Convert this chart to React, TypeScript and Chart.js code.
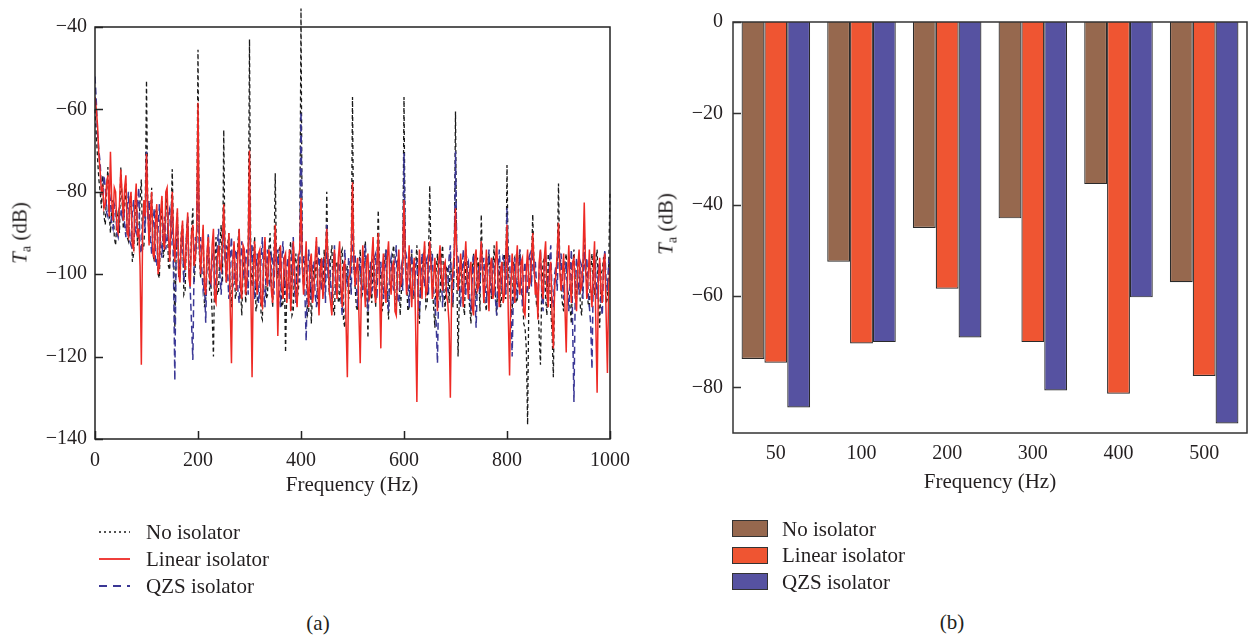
import React, { useEffect, useRef } from 'react';
import { Chart, registerables } from 'chart.js';

Chart.register(...registerables);

const FONT = "'Liberation Serif', 'Times New Roman', serif";
const TEXT = '#231f20';

// ---------- Panel (a): spectrum (frequency bins, Hz) ----------
const FREQ_HZ = [
  0, 2.5, 5, 7.5, 10, 12.5, 15, 17.5, 20, 22.5, 25, 27.5, 30, 32.5, 35, 37.5, 40, 42.5, 45, 47.5,
  50, 52.5, 55, 57.5, 60, 62.5, 65, 67.5, 70, 72.5, 75, 77.5, 80, 82.5, 85, 87.5, 90, 92.5, 95, 97.5,
  100, 102.5, 105, 107.5, 110, 112.5, 115, 117.5, 120, 122.5, 125, 127.5, 130, 132.5, 135, 137.5, 140, 142.5, 145, 147.5,
  150, 152.5, 155, 157.5, 160, 162.5, 165, 167.5, 170, 172.5, 175, 177.5, 180, 182.5, 185, 187.5, 190, 192.5, 195, 197.5,
  200, 202.5, 205, 207.5, 210, 212.5, 215, 217.5, 220, 222.5, 225, 227.5, 230, 232.5, 235, 237.5, 240, 242.5, 245, 247.5,
  250, 252.5, 255, 257.5, 260, 262.5, 265, 267.5, 270, 272.5, 275, 277.5, 280, 282.5, 285, 287.5, 290, 292.5, 295, 297.5,
  300, 302.5, 305, 307.5, 310, 312.5, 315, 317.5, 320, 322.5, 325, 327.5, 330, 332.5, 335, 337.5, 340, 342.5, 345, 347.5,
  350, 352.5, 355, 357.5, 360, 362.5, 365, 367.5, 370, 372.5, 375, 377.5, 380, 382.5, 385, 387.5, 390, 392.5, 395, 397.5,
  400, 402.5, 405, 407.5, 410, 412.5, 415, 417.5, 420, 422.5, 425, 427.5, 430, 432.5, 435, 437.5, 440, 442.5, 445, 447.5,
  450, 452.5, 455, 457.5, 460, 462.5, 465, 467.5, 470, 472.5, 475, 477.5, 480, 482.5, 485, 487.5, 490, 492.5, 495, 497.5,
  500, 502.5, 505, 507.5, 510, 512.5, 515, 517.5, 520, 522.5, 525, 527.5, 530, 532.5, 535, 537.5, 540, 542.5, 545, 547.5,
  550, 552.5, 555, 557.5, 560, 562.5, 565, 567.5, 570, 572.5, 575, 577.5, 580, 582.5, 585, 587.5, 590, 592.5, 595, 597.5,
  600, 602.5, 605, 607.5, 610, 612.5, 615, 617.5, 620, 622.5, 625, 627.5, 630, 632.5, 635, 637.5, 640, 642.5, 645, 647.5,
  650, 652.5, 655, 657.5, 660, 662.5, 665, 667.5, 670, 672.5, 675, 677.5, 680, 682.5, 685, 687.5, 690, 692.5, 695, 697.5,
  700, 702.5, 705, 707.5, 710, 712.5, 715, 717.5, 720, 722.5, 725, 727.5, 730, 732.5, 735, 737.5, 740, 742.5, 745, 747.5,
  750, 752.5, 755, 757.5, 760, 762.5, 765, 767.5, 770, 772.5, 775, 777.5, 780, 782.5, 785, 787.5, 790, 792.5, 795, 797.5,
  800, 802.5, 805, 807.5, 810, 812.5, 815, 817.5, 820, 822.5, 825, 827.5, 830, 832.5, 835, 837.5, 840, 842.5, 845, 847.5,
  850, 852.5, 855, 857.5, 860, 862.5, 865, 867.5, 870, 872.5, 875, 877.5, 880, 882.5, 885, 887.5, 890, 892.5, 895, 897.5,
  900, 902.5, 905, 907.5, 910, 912.5, 915, 917.5, 920, 922.5, 925, 927.5, 930, 932.5, 935, 937.5, 940, 942.5, 945, 947.5,
  950, 952.5, 955, 957.5, 960, 962.5, 965, 967.5, 970, 972.5, 975, 977.5, 980, 982.5, 985, 987.5, 990, 992.5, 995, 997.5,
  1000,
];

const TA_NO_ISOLATOR = [
  -60, -66, -72, -77, -80, -84, -76, -86, -88, -80, -74, -85, -90, -84, -82, -91, -93, -87, -85, -90,
  -74, -82, -89, -83, -78, -91, -92, -84, -81, -97, -95, -86, -80, -93, -90, -82, -77, -94, -93, -85,
  -53, -84, -92, -87, -79, -95, -97, -85, -84, -100, -101, -88, -82, -96, -94, -86, -80, -98, -99, -87,
  -74.5, -92, -113, -95, -85, -101, -98, -90, -88, -105, -104, -91, -86, -99, -100, -89, -84, -102, -97, -90,
  -45.5, -95, -101, -94, -89, -108, -106, -96, -93, -104, -102, -110, -120, -97, -91, -105, -104, -93, -88, -102,
  -65, -96, -102, -93, -90, -105, -108, -97, -93, -106, -104, -92, -89, -103, -110, -99, -95, -107, -103, -94,
  -43, -98, -103, -96, -91, -109, -107, -95, -95, -110, -111, -97, -92, -106, -105, -94, -90, -102, -108, -96,
  -75.5, -98, -101, -94, -93, -108, -107, -99, -119, -103, -102, -95, -92, -110, -109, -97, -95, -106, -104, -96,
  -35.5, -98, -103, -96, -95, -110, -109, -97, -112, -104, -98, -101, -92, -107, -108, -96, -99, -105, -94, -102,
  -80, -99, -105, -96, -93, -108, -110, -97, -97, -107, -106, -95, -94, -111, -113, -100, -98, -106, -104, -96,
  -57, -97, -103, -108, -109, -98, -94, -106, -104, -95, -92, -103, -115.5, -99, -101, -107, -95, -100, -108, -97,
  -84.5, -98, -101, -109, -107, -96, -94, -105, -111, -100, -99, -95, -93, -106, -108, -97, -96, -110, -104, -98,
  -57, -96, -102, -109, -108, -97, -95, -106, -104, -98, -93, -105, -112, -100, -99, -95, -94, -108, -107, -97,
  -78.5, -97, -103, -108, -113, -99, -95, -105, -106, -96, -93, -104, -109, -98, -99, -107, -96, -101, -108, -97,
  -60.5, -100, -120, -105, -96, -98, -107, -110, -94, -97, -104, -108, -112, -99, -95, -103, -106, -96, -98, -109,
  -85.5, -98, -104, -107, -109, -97, -95, -103, -106, -99, -93, -105, -110, -100, -98, -108, -105, -96, -95, -106,
  -73.5, -99, -103, -108, -110, -97, -96, -107, -106, -98, -94, -105, -104, -112, -113, -118, -136.5, -104, -100, -97,
  -85.5, -98, -102, -108, -107, -115, -122, -103, -97, -96, -106, -110, -95, -101, -109, -114, -125, -102, -100, -97,
  -78, -98, -103, -107, -109, -97, -95, -104, -105, -108, -112, -99, -94, -102, -106, -97, -97, -108, -110, -99,
  -90, -97, -102, -107, -108, -99, -95, -103, -105, -97, -94, -106, -113, -100, -99, -96, -96, -107, -106, -98,
  -80,
];

const TA_LINEAR = [
  -57, -60, -64, -71, -75, -80, -79, -84, -83, -78, -76, -86, -70.3, -82, -87, -79, -80, -89, -90, -83,
  -74.6, -80, -87, -79, -76, -90, -91, -82, -80, -93, -94, -83, -78, -91, -89, -98, -122, -89, -82, -86,
  -70.8, -84, -93, -86, -80, -95, -96, -87, -83, -100, -98, -85, -81, -92, -94, -80, -79, -90, -97, -88,
  -80, -91, -97, -89, -84, -100, -102, -91, -87, -96, -99, -92, -85, -101, -103, -90, -88, -98, -96, -89,
  -58.4, -92, -100, -94, -88, -103, -105, -95, -91, -101, -102, -93, -89, -106, -107, -96, -93, -98, -99, -92,
  -83, -95, -102, -96, -90, -108, -121.6, -97, -92, -101, -104, -95, -89, -103, -106, -93, -94, -105, -101, -94,
  -70, -103, -125, -99, -92, -101, -105, -95, -94, -107, -108, -97, -91, -100, -103, -94, -96, -104, -107, -98,
  -88, -98, -115, -101, -93, -103, -106, -96, -95, -107, -102, -94, -109, -103, -92, -99, -105, -108, -96, -94,
  -81.5, -98, -105, -99, -92, -103, -108, -97, -95, -107, -104, -96, -91, -102, -110, -99, -96, -106, -102, -95,
  -89, -97, -104, -107, -110, -99, -94, -101, -106, -96, -92, -103, -108, -98, -97, -112, -125, -101, -100, -95,
  -77.7, -96, -103, -99, -96, -110, -121.6, -101, -93, -102, -108, -97, -95, -106, -105, -96, -91, -104, -107, -98,
  -90, -103, -118, -100, -95, -104, -107, -96, -92, -101, -105, -98, -97, -109, -110, -99, -94, -103, -102, -96,
  -82, -97, -105, -100, -93, -102, -108, -99, -96, -112, -131, -104, -94, -101, -106, -97, -92, -105, -104, -96,
  -92, -98, -106, -101, -96, -103, -109, -97, -93, -100, -104, -98, -97, -105, -107, -112, -130, -104, -99, -95,
  -84, -97, -104, -100, -95, -102, -108, -98, -92, -101, -106, -99, -97, -108, -110, -96, -94, -104, -103, -97,
  -92, -99, -107, -101, -94, -103, -109, -98, -96, -106, -104, -97, -92, -102, -108, -99, -97, -107, -105, -96,
  -88, -110, -124.6, -103, -95, -100, -107, -98, -93, -102, -105, -97, -96, -109, -110, -99, -94, -103, -102, -96,
  -90, -98, -105, -102, -111, -97, -94, -103, -106, -96, -92, -104, -108, -99, -97, -110, -118, -103, -100, -95,
  -87.5, -99, -104, -100, -95, -108, -119, -101, -93, -102, -107, -97, -96, -105, -109, -98, -94, -104, -103, -97,
  -82.6, -98, -106, -101, -94, -103, -108, -99, -92, -112, -128.8, -101, -96, -104, -107, -97, -95, -110, -124, -103,
  -98,
];

const TA_QZS = [
  -52, -58, -66, -70, -73, -79, -81, -76, -79, -85, -86, -80, -82, -88, -89, -83, -84, -90, -91, -86,
  -84.4, -86, -82, -88, -91, -84, -80, -92, -93, -85, -82, -89, -90, -83, -79, -94, -95, -87, -84, -90,
  -70.2, -87, -82, -91, -95, -88, -84, -97, -98, -89, -83, -92, -96, -90, -86, -94, -91, -85, -84, -93,
  -82, -100, -125.8, -95, -87, -96, -101, -93, -89, -102, -98, -91, -86, -99, -104, -112, -120.8, -97, -91, -94,
  -69, -94, -91, -99, -104, -102, -111.8, -96, -90, -98, -103, -97, -94, -105, -101, -93, -89, -100, -105, -95,
  -88, -97, -93, -100, -106, -96, -91, -103, -102, -94, -95, -104, -107, -98, -92, -99, -101, -96, -94, -105,
  -80.7, -97, -93, -102, -106, -98, -95, -107, -104, -96, -91, -103, -108, -99, -94, -101, -103, -95, -96, -105,
  -90, -99, -94, -103, -108, -97, -92, -100, -105, -98, -96, -106, -102, -95, -91, -104, -107, -99, -95, -102,
  -60.5, -95, -96, -104, -116.2, -101, -94, -100, -106, -97, -97, -105, -108, -99, -93, -102, -104, -96, -98, -107,
  -88, -101, -96, -102, -107, -99, -93, -104, -105, -97, -98, -106, -110, -100, -94, -101, -103, -96, -97, -105,
  -87, -99, -95, -103, -108, -100, -96, -105, -104, -98, -93, -102, -109, -101, -97, -104, -103, -96, -95, -106,
  -92, -100, -97, -103, -106, -99, -94, -105, -109, -98, -96, -102, -104, -97, -93, -106, -107, -100, -98, -104,
  -70.6, -94, -96, -102, -108, -99, -94, -104, -105, -98, -97, -106, -110, -101, -95, -100, -103, -97, -96, -105,
  -92, -99, -95, -104, -106, -112, -121.6, -101, -94, -100, -108, -99, -97, -103, -104, -96, -93, -105, -107, -98,
  -70.2, -95, -96, -103, -108, -100, -94, -102, -105, -98, -97, -106, -109, -101, -95, -104, -113, -102, -98, -105,
  -92, -99, -96, -103, -107, -100, -94, -102, -105, -97, -98, -106, -110, -101, -94, -100, -104, -96, -97, -105,
  -84, -98, -95, -108, -120, -103, -96, -101, -106, -99, -94, -102, -108, -100, -97, -105, -104, -96, -95, -103,
  -93, -100, -97, -103, -107, -99, -94, -105, -109, -98, -96, -101, -104, -97, -93, -106, -108, -100, -98, -104,
  -90, -99, -95, -102, -106, -100, -97, -104, -109, -101, -94, -113, -131, -105, -96, -100, -105, -97, -98, -106,
  -93, -99, -96, -104, -108, -112, -123, -101, -95, -100, -106, -98, -97, -107, -110, -99, -94, -102, -104, -97,
  -98,
];

// ---------- Panel (b): bars ----------
const BAR_FREQS = ['50', '100', '200', '300', '400', '500'];
const BAR_NO_ISOLATOR = [-73.8, -52.5, -45.1, -43.0, -35.5, -57.0];
const BAR_LINEAR = [-74.6, -70.4, -58.4, -70.1, -81.4, -77.5];
const BAR_QZS = [-84.4, -70.1, -69.1, -80.7, -60.3, -87.9];

const SERIES_NAMES = ['No isolator', 'Linear isolator', 'QZS isolator'];

const C_BLACK = '#1a1a1a';
const C_RED = '#ee2a25';
const C_BLUE = '#3a3795';
const C_BROWN = '#96684e';
const C_ORANGE = '#ef5532';
const C_PURPLE = '#5652a1';

const minus = (v: number | string) => String(v).replace('-', '\u2212');

const framePlugin = {
  id: 'frame',
  afterDatasetsDraw(chart: any, _args: any, opts: any) {
    const { ctx, chartArea: a, scales } = chart;
    ctx.save();
    ctx.strokeStyle = opts.color;
    ctx.lineWidth = opts.width;
    ctx.strokeRect(a.left, a.top, a.right - a.left, a.bottom - a.top);
    const L = opts.tickLen;
    ctx.beginPath();
    if (opts.xTicks) {
      scales.x.ticks.forEach((t: any) => {
        const px = Math.round(scales.x.getPixelForValue(t.value)) + 0.5;
        ctx.moveTo(px, a.bottom);
        ctx.lineTo(px, a.bottom - L);
      });
    }
    scales.y.ticks.forEach((t: any) => {
      const py = Math.round(scales.y.getPixelForValue(t.value)) + 0.5;
      ctx.moveTo(a.left, py);
      ctx.lineTo(a.left + L, py);
    });
    ctx.stroke();
    ctx.restore();
  },
};

function toPoints(ys: number[]) {
  return FREQ_HZ.map((f, i) => ({ x: f, y: ys[i] }));
}

function SpectrumChart() {
  const ref = useRef<HTMLCanvasElement>(null);
  useEffect(() => {
    const chart = new Chart(ref.current!, {
      type: 'line',
      data: {
        datasets: [
          {
            label: SERIES_NAMES[0],
            data: toPoints(TA_NO_ISOLATOR),
            borderColor: C_BLACK,
            borderWidth: 1.3,
            borderDash: [4, 3],
            pointRadius: 0,
            tension: 0,
            clip: false as any,
            order: 3,
          },
          {
            label: SERIES_NAMES[1],
            data: toPoints(TA_LINEAR),
            borderColor: C_RED,
            borderWidth: 1.5,
            pointRadius: 0,
            tension: 0,
            order: 1,
          },
          {
            label: SERIES_NAMES[2],
            data: toPoints(TA_QZS),
            borderColor: C_BLUE,
            borderWidth: 1.5,
            borderDash: [7, 4],
            pointRadius: 0,
            tension: 0,
            order: 2,
          },
        ],
      },
      options: {
        animation: false,
        responsive: false,
        devicePixelRatio: 1,
        events: [],
        layout: { padding: { left: 0, right: 30, top: 27, bottom: 41 } },
        scales: {
          x: {
            type: 'linear',
            min: 0,
            max: 1000,
            ticks: { stepSize: 200, padding: 10, color: TEXT, font: { family: FONT, size: 20 }, maxRotation: 0, callback: (v: any) => String(v) },
            grid: { display: false, drawTicks: false },
            border: { display: false },
            afterFit: (s: any) => { s.height = 40; },
          },
          y: {
            type: 'linear',
            min: -140,
            max: -40,
            ticks: { stepSize: 20, padding: 8, color: TEXT, font: { family: FONT, size: 20 }, callback: (v: any) => minus(v) },
            grid: { display: false, drawTicks: false },
            border: { display: false },
            afterFit: (s: any) => { s.width = 95; },
          },
        },
        plugins: {
          legend: { display: false },
          tooltip: { enabled: false },
          frame: { color: '#222', width: 1.5, tickLen: 8, xTicks: true },
        } as any,
      },
      plugins: [framePlugin],
    });
    return () => chart.destroy();
  }, []);
  return <canvas ref={ref} width={640} height={520} style={{ position: 'absolute', left: 0, top: 0 }} />;
}

function BarChart() {
  const ref = useRef<HTMLCanvasElement>(null);
  useEffect(() => {
    const common = { borderColor: '#2a2a2a', borderWidth: 1.2, categoryPercentage: 0.8, barPercentage: 1 };
    const chart = new Chart(ref.current!, {
      type: 'bar',
      data: {
        labels: BAR_FREQS,
        datasets: [
          { label: SERIES_NAMES[0], data: BAR_NO_ISOLATOR, backgroundColor: C_BROWN, ...common },
          { label: SERIES_NAMES[1], data: BAR_LINEAR, backgroundColor: C_ORANGE, ...common },
          { label: SERIES_NAMES[2], data: BAR_QZS, backgroundColor: C_PURPLE, ...common },
        ],
      },
      options: {
        animation: false,
        responsive: false,
        devicePixelRatio: 1,
        events: [],
        layout: { padding: { left: 0, right: 3, top: 21, bottom: 47 } },
        scales: {
          x: {
            ticks: { padding: 9, color: TEXT, font: { family: FONT, size: 20 }, maxRotation: 0 },
            grid: { display: false, drawTicks: false },
            border: { display: false },
            afterFit: (s: any) => { s.height = 40; },
          },
          y: {
            min: -90,
            max: 0,
            ticks: { stepSize: 20, includeBounds: false, padding: 10, color: TEXT, font: { family: FONT, size: 20 }, callback: (v: any) => minus(v) },
            grid: { display: false, drawTicks: false },
            border: { display: false },
            afterFit: (s: any) => { s.width = 93; },
          },
        },
        plugins: {
          legend: { display: false },
          tooltip: { enabled: false },
          frame: { color: '#333', width: 1.5, tickLen: 8, xTicks: false },
        } as any,
      },
      plugins: [framePlugin],
    });
    return () => chart.destroy();
  }, []);
  return <canvas ref={ref} width={610} height={520} style={{ position: 'absolute', left: 640, top: 0 }} />;
}

const textStyle: React.CSSProperties = {
  position: 'absolute',
  fontFamily: FONT,
  fontSize: 21,
  color: TEXT,
  whiteSpace: 'nowrap',
  lineHeight: 'normal',
};

function Centered({ x, y, children, rotate }: { x: number; y: number; children: React.ReactNode; rotate?: boolean }) {
  return (
    <div style={{ ...textStyle, left: x, top: y, transform: `translate(-50%, -50%)${rotate ? ' rotate(-90deg)' : ''}` }}>
      {children}
    </div>
  );
}

function YTitle() {
  return (
    <>
      <span style={{ fontStyle: 'italic' }}>T</span>
      <span style={{ fontSize: 14, position: 'relative', top: 4 }}>a</span> (dB)
    </>
  );
}

function LeftLegend() {
  const rows = [
    { y: 532, stroke: C_BLACK, dash: '2 3', w: 1.6 },
    { y: 559, stroke: C_RED, dash: '', w: 1.8 },
    { y: 586, stroke: C_BLUE, dash: '8 6', w: 1.8 },
  ];
  return (
    <>
      <svg width={40} height={80} style={{ position: 'absolute', left: 95, top: 520 }}>
        {rows.map((r, i) => (
          <line key={i} x1={4} x2={35} y1={r.y - 520} y2={r.y - 520} stroke={r.stroke} strokeWidth={r.w} strokeDasharray={r.dash || undefined} />
        ))}
      </svg>
      {rows.map((r, i) => (
        <div key={i} style={{ ...textStyle, left: 146, top: r.y, transform: 'translateY(-50%)' }}>{SERIES_NAMES[i]}</div>
      ))}
    </>
  );
}

function RightLegend() {
  const rows = [
    { y: 528.5, fill: C_BROWN },
    { y: 555, fill: C_ORANGE },
    { y: 581.5, fill: C_PURPLE },
  ];
  return (
    <>
      {rows.map((r, i) => (
        <React.Fragment key={i}>
          <div style={{ position: 'absolute', left: 732, top: r.y - 8.5, width: 34, height: 15, background: r.fill, border: '1.2px solid #333' }} />
          <div style={{ ...textStyle, left: 782, top: r.y, transform: 'translateY(-50%)' }}>{SERIES_NAMES[i]}</div>
        </React.Fragment>
      ))}
    </>
  );
}

export default function App() {
  return (
    <div style={{ position: 'absolute', left: 0, top: 0, width: 1250, height: 639, background: '#fff', overflow: 'hidden' }}>
      <SpectrumChart />
      <BarChart />
      <Centered x={20} y={233} rotate><YTitle /></Centered>
      <Centered x={666} y={224} rotate><YTitle /></Centered>
      <Centered x={352} y={484}>Frequency (Hz)</Centered>
      <Centered x={990} y={481}>Frequency (Hz)</Centered>
      <LeftLegend />
      <RightLegend />
      <Centered x={318} y={623}>(a)</Centered>
      <Centered x={952} y={622}>(b)</Centered>
    </div>
  );
}
